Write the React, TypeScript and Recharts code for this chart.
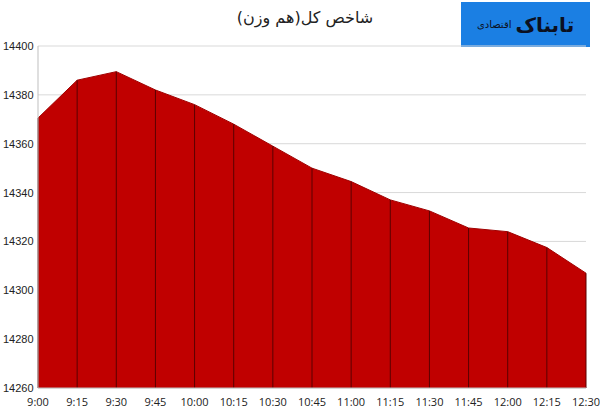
import React from 'react';
import { ComposedChart, Area, XAxis, YAxis, CartesianGrid, ReferenceLine } from 'recharts';

const times = ['9:00', '9:15', '9:30', '9:45', '10:00', '10:15', '10:30', '10:45', '11:00', '11:15', '11:30', '11:45', '12:00', '12:15', '12:30'];
const indexValues = [14370.5, 14386, 14389.5, 14382, 14376, 14368, 14359, 14350, 14344.5, 14337, 14332.5, 14325.5, 14324, 14317.5, 14307];
const yTicks = [14260, 14280, 14300, 14320, 14340, 14360, 14380, 14400];

const data = times.map((t, i) => ({ time: t, value: indexValues[i] }));

const TITLE = 'شاخص کل(هم وزن)';

const YTick = ({ y, payload }: any) => (
  <text
    x={3}
    y={y}
    dy={4}
    textAnchor="start"
    fontSize={11}
    fill="#222"
    fontFamily='"Liberation Sans Narrow", "Liberation Sans", sans-serif'
  >
    {payload.value}
  </text>
);

export default function App() {
  return (
    <div style={{ position: 'absolute', left: 0, top: 0, width: 600, height: 410, background: '#fff' }}>
      <div
        style={{
          position: 'absolute',
          left: 180,
          width: 250,
          top: 8,
          textAlign: 'center',
          fontFamily: '"DejaVu Sans", sans-serif',
          fontSize: 16,
          color: '#222',
          direction: 'rtl',
        }}
      >
        {TITLE}
      </div>
      {/* logo */}
      <div
        style={{
          position: 'absolute',
          left: 461,
          top: 2,
          width: 129,
          height: 45,
          background: '#1b7fe3',
          fontFamily: '"DejaVu Sans", sans-serif',
          direction: 'rtl',
          display: 'flex',
          alignItems: 'center',
          justifyContent: 'center',
          gap: 4,
        }}
      >
        <span style={{ fontSize: 20, fontWeight: 'bold', color: '#0b1020' }}>تابناک</span>
        <span style={{ fontSize: 10, color: '#0b1020' }}>اقتصادی</span>
      </div>
      <ComposedChart width={600} height={410} data={data} margin={{ top: 46, right: 14, left: 0, bottom: 0 }}>
        <CartesianGrid vertical={false} stroke="#d9d9d9" />
        <XAxis
          dataKey="time"
          tickLine={false}
          axisLine={{ stroke: '#bfbfbf' }}
          tick={{ fontSize: 11, fill: '#222', fontFamily: '"Open Sans", sans-serif' }}
          height={22}
          tickMargin={4}
          interval={0}
        />
        <YAxis
          domain={[14260, 14400]}
          ticks={yTicks}
          width={38}
          tickLine={false}
          axisLine={{ stroke: '#bfbfbf' }}
          tick={<YTick />}
          allowDataOverflow
        />
        <Area
          type="linear"
          dataKey="value"
          baseValue={14260}
          fill="#c00000"
          fillOpacity={1}
          stroke="#a00000"
          strokeWidth={1}
          isAnimationActive={false}
        />
        {data.map((d) => (
          <ReferenceLine
            key={d.time}
            segment={[
              { x: d.time, y: 14260 },
              { x: d.time, y: d.value },
            ]}
            stroke="#5a0000"
            strokeWidth={1}
          />
        ))}
      </ComposedChart>
    </div>
  );
}
